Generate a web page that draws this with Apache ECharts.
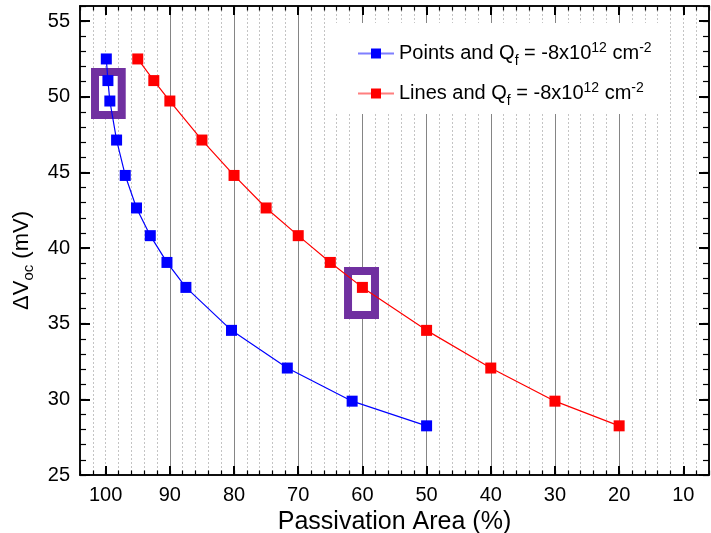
<!DOCTYPE html>
<html><head><meta charset="utf-8">
<script src="https://cdn.jsdelivr.net/npm/echarts@6/dist/echarts.min.js"></script>
<style>html,body{margin:0;padding:0;background:#fff}#c{width:711px;height:533px}</style>
</head><body><div id="c"></div>
<script>
// ---- data ----
const seriesNames = ['Points', 'Lines'];
const pointsArea = [99.9, 99.65, 99.35, 98.3, 96.95, 95.2, 93.05, 90.45, 87.5, 80.4, 71.7, 61.6, 50];
const linesArea = [95, 92.5, 90, 85, 80, 75, 70, 65, 60, 50, 40, 30, 20];
const deltaVoc = [52.5, 51.07, 49.72, 47.14, 44.8, 42.65, 40.82, 39.05, 37.4, 34.56, 32.07, 29.88, 28.25];
const xTicks = [100, 90, 80, 70, 60, 50, 40, 30, 20, 10];
const yTicks = [25, 30, 35, 40, 45, 50, 55];
const highlightBoxes = [[[101.66, 51.64], [97.5, 48.8]], [[62.24, 38.49], [58.04, 35.58]]];

// ---- chart ----
const FONT = '"Liberation Sans", Arial, sans-serif';
const X_MIN = 6, X_MAX = 104, Y_MIN = 25, Y_MAX = 56;

function xAxisCfg(pos, major) {
  const a = {
    type: 'value', position: pos, inverse: true, min: X_MIN, max: X_MAX,
    axisLine: { show: true, onZero: false, lineStyle: { color: '#000', width: 1.5 } },
    axisLabel: { show: false },
    splitLine: { show: false }
  };
  if (major) {
    a.axisTick = { show: true, inside: true, length: 9, customValues: xTicks, lineStyle: { color: '#000', width: 2 } };
    if (pos === 'bottom') {
      a.axisLabel = { show: true, customValues: xTicks, margin: 10, fontSize: 20, color: '#000', fontFamily: FONT };
      a.splitLine = { show: true, showMinLine: false, showMaxLine: false, lineStyle: { color: '#858585', width: 1 } };
      a.name = 'Passivation Area (%)';
      a.nameLocation = 'middle';
      a.nameGap = 30;
      a.nameTextStyle = { fontSize: 25, color: '#000', fontFamily: FONT };
    }
  } else {
    a.interval = 2;
    a.axisTick = { show: true, inside: true, length: 4.5, interval: 0, lineStyle: { color: '#000', width: 1.2 } };
    if (pos === 'bottom') {
      a.splitLine = { show: true, interval: 0, showMinLine: false, showMaxLine: false, lineStyle: { color: '#c4c4c4', width: 1, type: [2, 2] } };
    }
  }
  return a;
}

function yAxisCfg(pos, major) {
  const a = {
    type: 'value', position: pos, min: Y_MIN, max: Y_MAX,
    axisLine: { show: true, onZero: false, lineStyle: { color: '#000', width: 1.5 } },
    axisLabel: { show: false },
    splitLine: { show: false }
  };
  if (major) {
    a.axisTick = { show: true, inside: true, length: 10, customValues: yTicks, lineStyle: { color: '#000', width: 2 } };
    if (pos === 'left') {
      a.axisLabel = { show: true, customValues: yTicks, margin: 10, fontSize: 20, color: '#000', fontFamily: FONT };
      a.name = '{b|ΔV}{s|oc}{b| (mV)}';
      a.nameLocation = 'middle';
      a.nameGap = 33;
      a.nameTextStyle = {
        color: '#000', fontFamily: FONT, padding: [0, 40, 0, 0],
        rich: {
          b: { fontSize: 22, lineHeight: 27, fontFamily: FONT, color: '#000' },
          s: { fontSize: 15, lineHeight: 27, fontFamily: FONT, color: '#000', padding: [15, 0, 0, 0] }
        }
      };
    }
  } else {
    a.interval = 1;
    a.axisTick = { show: true, inside: true, length: 6, interval: 0, lineStyle: { color: '#000', width: 1.2 } };
  }
  return a;
}

const legendText = {
  'Points': '{n|Points and Q}{sub|f}{n| = -8x10}{sup|12}{n| cm}{sup|-2}',
  'Lines': '{n|Lines and Q}{sub|f}{n| = -8x10}{sup|12}{n| cm}{sup|-2}'
};

const option = {
  animation: false,
  backgroundColor: '#fff',
  grid: { left: 80, right: 2, top: 6, bottom: 58, containLabel: false, outerBoundsMode: 'none' },
  xAxis: [xAxisCfg('bottom', false), xAxisCfg('bottom', true), xAxisCfg('top', false), xAxisCfg('top', true)],
  yAxis: [yAxisCfg('left', false), yAxisCfg('left', true), yAxisCfg('right', false), yAxisCfg('right', true)],
  legend: {
    orient: 'vertical', left: 327, top: 23, padding: [16, 14, 6, 30],
    backgroundColor: '#fff', borderWidth: 0,
    itemWidth: 36, itemHeight: 12.5, itemGap: 11, itemTextGap: 7,
    data: [
      { name: seriesNames[0], lineStyle: { color: '#7f7fff' } },
      { name: seriesNames[1], lineStyle: { color: '#ff7f7f' } }
    ],
    formatter: name => legendText[name],
    textStyle: {
      fontFamily: FONT, fontSize: 20, color: '#000',
      rich: {
        n: { fontSize: 20, lineHeight: 22, fontFamily: FONT, color: '#000' },
        sub: { fontSize: 14, lineHeight: 22, fontFamily: FONT, color: '#000', padding: [15, 0, 0, 0] },
        sup: { fontSize: 14, lineHeight: 22, fontFamily: FONT, color: '#000', padding: [0, 0, 11, 0] }
      }
    }
  },
  series: [
    {
      name: seriesNames[0], type: 'line', xAxisIndex: 0, yAxisIndex: 0,
      data: pointsArea.map((x, i) => [x, deltaVoc[i]]),
      symbol: 'rect', symbolSize: 11,
      itemStyle: { color: '#0000ff' },
      lineStyle: { color: '#0000ff', width: 1.2 },
      markArea: {
        silent: true,
        itemStyle: { color: '#fff', borderColor: '#7030a0', borderWidth: 8 },
        data: highlightBoxes.map(b => [{ coord: b[0] }, { coord: b[1] }])
      }
    },
    {
      name: seriesNames[1], type: 'line', xAxisIndex: 0, yAxisIndex: 0,
      data: linesArea.map((x, i) => [x, deltaVoc[i]]),
      symbol: 'rect', symbolSize: 11,
      itemStyle: { color: '#ff0000' },
      lineStyle: { color: '#ff0000', width: 1.2 }
    }
  ]
};

const chart = echarts.init(document.getElementById('c'), null, { renderer: 'canvas' });
chart.setOption(option);
</script>
</body></html>
